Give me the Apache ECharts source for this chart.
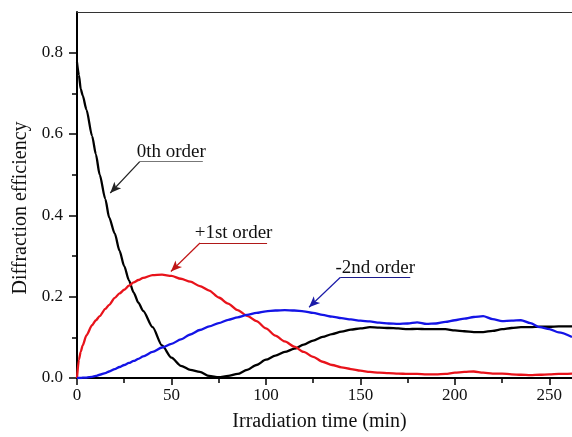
<!DOCTYPE html>
<html>
<head>
<meta charset="utf-8">
<script src="https://cdn.jsdelivr.net/npm/echarts@6/dist/echarts.min.js"></script>
<style>
  html, body { margin: 0; padding: 0; background: #fff; }
  #chart { width: 572px; height: 437px; }
</style>
</head>
<body>
<div id="chart"></div>
<script>
// irradiation time (min)
const times = [0, 1, 2, 3, 5, 8, 10, 12, 15, 17, 20, 22.5, 25, 27.5, 30, 32.5, 35, 40, 45, 50,
  55, 60, 65, 70, 75, 80, 85, 90, 95, 100, 105, 110, 115, 120, 125, 130, 135, 140, 145, 150,
  155, 160, 165, 170, 175, 180, 185, 190, 195, 200, 205, 210, 215, 220, 225, 230, 235, 240, 245, 250,
  255, 262];

const order0 = [0.776, 0.745, 0.71, 0.695, 0.66, 0.595, 0.55, 0.5, 0.44, 0.395, 0.355, 0.313, 0.275, 0.24, 0.21, 0.185, 0.165, 0.125, 0.08, 0.05,
  0.03, 0.02, 0.015, 0.005, 0.002, 0.005, 0.01, 0.02, 0.032, 0.045, 0.055, 0.064, 0.072, 0.082, 0.092, 0.101, 0.108, 0.114, 0.119, 0.122,
  0.125, 0.124, 0.123, 0.122, 0.12, 0.121, 0.12, 0.12, 0.12, 0.117, 0.115, 0.113, 0.113, 0.116, 0.12, 0.123, 0.125, 0.125, 0.126, 0.126,
  0.127, 0.127];

const order1 = [0, 0.045, 0.065, 0.08, 0.105, 0.13, 0.142, 0.152, 0.17, 0.18, 0.197, 0.208, 0.217, 0.227, 0.235, 0.241, 0.246, 0.253, 0.254, 0.251,
  0.244, 0.237, 0.226, 0.215, 0.198, 0.183, 0.167, 0.153, 0.14, 0.122, 0.104, 0.09, 0.077, 0.064, 0.052, 0.04, 0.032, 0.026, 0.022, 0.018,
  0.015, 0.013, 0.012, 0.011, 0.01, 0.01, 0.009, 0.009, 0.01, 0.013, 0.015, 0.016, 0.013, 0.011, 0.011, 0.009, 0.008, 0.007, 0.008, 0.009,
  0.01, 0.011];

const order2 = [0, 0, 0, 0.001, 0.001, 0.003, 0.005, 0.008, 0.012, 0.016, 0.022, 0.027, 0.032, 0.037, 0.042, 0.047, 0.053, 0.064, 0.075, 0.084,
  0.095, 0.107, 0.118, 0.127, 0.135, 0.143, 0.149, 0.155, 0.16, 0.164, 0.166, 0.167, 0.166, 0.164, 0.16, 0.155, 0.151, 0.147, 0.144, 0.141,
  0.139, 0.136, 0.134, 0.133, 0.134, 0.137, 0.133, 0.134, 0.138, 0.142, 0.146, 0.15, 0.152, 0.145, 0.14, 0.141, 0.142, 0.135, 0.125, 0.12,
  0.112, 0.101];

const xTicks = [0, 50, 100, 150, 200, 250];
const yTicks = [0, 0.2, 0.4, 0.6, 0.8];

const FONT = 'Liberation Serif';

// label text, underline [x1, x2, y], arrow tip [x, y] in data units
function callout(text, x1, x2, y, tip, lineColor, arrowColor) {
  return {
    silent: true,
    animation: false,
    symbol: ['none', 'none'],
    data: [
      [
        { coord: [x1, y], lineStyle: { color: lineColor, width: 1.2, type: 'solid' },
          label: { show: true, position: 'insideMiddleTop', formatter: text, distance: 0,
            color: '#111', fontFamily: FONT, fontSize: 19 } },
        { coord: [x2, y] }
      ],
      [
        { coord: [x1, y], symbol: 'none', lineStyle: { color: arrowColor, width: 1.2, type: 'solid' },
          label: { show: false } },
        { coord: tip, symbol: 'arrow', symbolSize: [7, 11] }
      ]
    ]
  };
}

function pairs(ys) {
  return times.map((t, i) => [t, ys[i]]);
}

const chart = echarts.init(document.getElementById('chart'));

chart.setOption({
  backgroundColor: '#fff',
  animation: false,
  grid: { left: 77, right: 0, top: 12, bottom: 55.5, containLabel: false },
  xAxis: [
    {
      type: 'value',
      min: 0,
      max: 262,
      interval: 50,
      name: 'Irradiation time (min)',
      nameLocation: 'middle',
      nameGap: 34,
      nameTextStyle: { fontFamily: FONT, fontSize: 20, color: '#111', padding: [0, 10, 0, 0] },
      axisLine: { lineStyle: { color: '#000', width: 2 } },
      axisTick: { inside: false, length: 7, lineStyle: { color: '#000', width: 1.5 }, customValues: xTicks },
      minorTick: { show: true, splitNumber: 2, length: 5, lineStyle: { color: '#000', width: 1.5 } },
      axisLabel: { fontFamily: FONT, fontSize: 17, color: '#111', margin: 9, customValues: xTicks },
      splitLine: { show: false }
    },
    {
      type: 'value',
      position: 'top',
      min: 0,
      max: 262,
      axisLine: { show: true, lineStyle: { color: '#333', width: 1.2 } },
      axisTick: { show: false },
      axisLabel: { show: false },
      splitLine: { show: false }
    }
  ],
  yAxis: {
    type: 'value',
    min: 0,
    max: 0.9,
    interval: 0.2,
    name: 'Diffraction efficiency',
    nameLocation: 'middle',
    nameGap: 42,
    nameTextStyle: { fontFamily: FONT, fontSize: 20, color: '#111', padding: [0, 26, 0, 0] },
    axisLine: { show: true, lineStyle: { color: '#000', width: 2 } },
    axisTick: { inside: false, length: 8, lineStyle: { color: '#000', width: 1.5 }, customValues: yTicks },
    minorTick: { show: true, splitNumber: 2, length: 5, lineStyle: { color: '#000', width: 1.5 } },
    axisLabel: { fontFamily: FONT, fontSize: 17, color: '#111', margin: 14, customValues: yTicks,
      formatter: v => v.toFixed(1) },
    splitLine: { show: false }
  },
  series: [
    {
      name: '0th order',
      type: 'line',
      data: pairs(order0),
      showSymbol: false,
      smooth: 0.25,
      smoothMonotone: 'x',
      lineStyle: { color: '#000', width: 2.3 },
      itemStyle: { color: '#000' },
      markLine: callout('0th order', 33.2, 66.6, 0.532, [17.6, 0.455], '#777', '#222')
    },
    {
      name: '+1st order',
      type: 'line',
      data: pairs(order1),
      showSymbol: false,
      smooth: 0.25,
      smoothMonotone: 'x',
      lineStyle: { color: '#e8131b', width: 2.3 },
      itemStyle: { color: '#e8131b' },
      markLine: callout('+1st order', 65.1, 100.6, 0.332, [49.7, 0.262], '#b01818', '#c01515')
    },
    {
      name: '-2nd order',
      type: 'line',
      data: pairs(order2),
      showSymbol: false,
      smooth: 0.25,
      smoothMonotone: 'x',
      lineStyle: { color: '#1414e6', width: 2.3 },
      itemStyle: { color: '#1414e6' },
      markLine: callout('-2nd order', 139.3, 176.4, 0.247, [122.8, 0.174], '#1a1a8c', '#1a1aa8')
    }
  ]
});
</script>
</body>
</html>
